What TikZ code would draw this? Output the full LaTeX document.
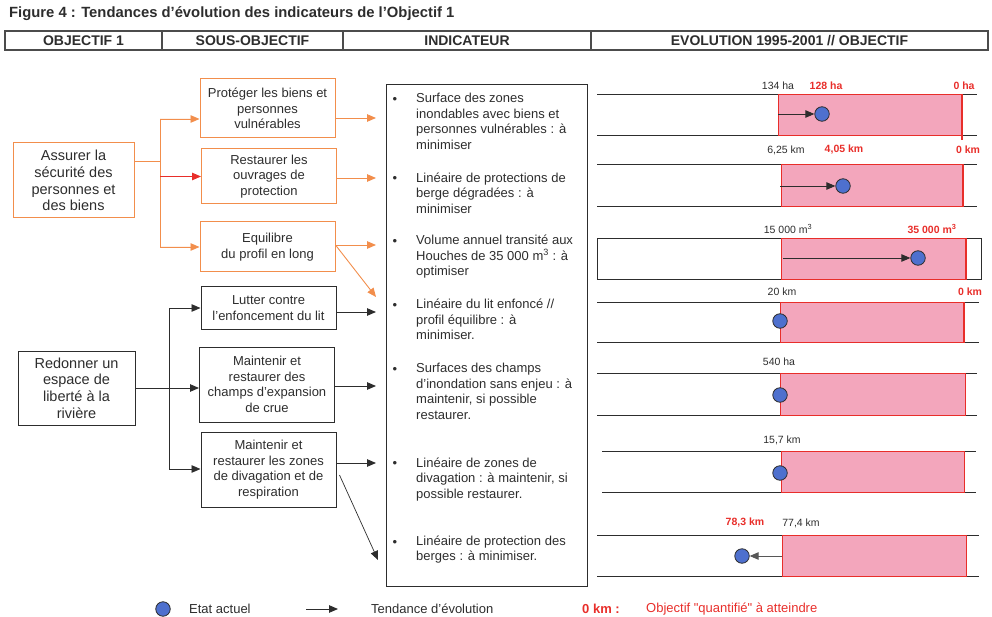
\documentclass[tikz,border=0pt]{standalone}
\usepackage{fontspec}
\setmainfont{Liberation Sans}
\usetikzlibrary{arrows.meta}

\definecolor{orangebox}{RGB}{242,142,76}
\definecolor{redgoal}{RGB}{232,46,42}
\definecolor{pinkbar}{RGB}{243,166,188}
\definecolor{blueetat}{RGB}{78,112,206}
\definecolor{inkgray}{RGB}{45,45,45}

\begin{document}
\begin{tikzpicture}[
            x=1pt, y=-1pt,
            font=\fontsize{13}{15.5}\selectfont, text=inkgray,
            head/.style={rectangle, draw=inkgray!85, line width=1.3pt, minimum height=19pt,
                                        inner sep=0pt, font=\fontsize{14}{16}\selectfont\bfseries},
            obj/.style={rectangle, draw, line width=1pt, align=center, inner sep=0pt,
                                        font=\fontsize{14.5}{16.7}\selectfont},
            sous/.style={rectangle, draw, line width=1pt, align=center, inner sep=0pt,
                                        minimum width=135pt},
            item/.style={anchor=north west, align=left, inner sep=0pt},
            puce/.style={anchor=base, inner sep=0pt},
            flow/.style={-{Triangle[length=9pt,width=7.5pt]}, line width=0.9pt},
            rail/.style={draw=inkgray, line width=0.9pt},
            bar/.style={fill=pinkbar, draw=redgoal, line width=0.8pt},
            goal/.style={draw=redgoal, line width=2.4pt},
            etat/.style={circle, draw=inkgray, fill=blueetat, line width=0.8pt,
                                        minimum size=14.5pt, inner sep=0pt},
            val/.style={inner sep=0pt, font=\fontsize{10.5}{12}\selectfont},
            valr/.style={val, text=redgoal, font=\fontsize{10.5}{12}\selectfont\bfseries}
        ]
        \useasboundingbox (0,0) rectangle (992,617);

        % Title and header row
        \node[anchor=west, inner sep=0pt, font=\fontsize{14.8}{17}\selectfont\bfseries] (title)
            at (9,14) {Figure 4 : Tendances d'évolution des indicateurs de l'Objectif 1};
        \node[head, minimum width=157pt] (h1) at (83.5,40.5) {OBJECTIF 1};
        \node[head, minimum width=181pt] (h2) at (252.5,40.5) {SOUS-OBJECTIF};
        \node[head, minimum width=248pt] (h3) at (467,40.5) {INDICATEUR};
        \node[head, minimum width=397pt] (h4) at (789.5,40.5) {EVOLUTION 1995-2001 // OBJECTIF};

        % Objectives
        \node[obj, draw=orangebox, minimum width=121pt, minimum height=75pt] (obj1)
            at (73.5,180.5) {Assurer la\\sécurité des\\personnes et\\des biens};
        \node[obj, draw=inkgray, minimum width=117pt, minimum height=74pt] (obj2)
            at (76.5,388) {Redonner un\\espace de\\liberté à la\\rivière};

        % Sub-objectives
        \node[sous, draw=orangebox, minimum height=59pt] (s1) at (267.5,108.5)
            {Protéger les biens et\\personnes\\vulnérables};
        \node[sous, draw=orangebox, minimum height=55pt] (s2) at (269,176.5)
            {Restaurer les\\ouvrages de\\protection};
        \node[sous, draw=orangebox, minimum height=50pt] (s3) at (267.5,247)
            {Equilibre\\du profil en long};
        \node[sous, draw=inkgray, minimum height=42pt] (s4) at (268.5,308)
            {Lutter contre\\l'enfoncement du lit};
        \node[sous, draw=inkgray, minimum height=75pt] (s5) at (267,384.5)
            {Maintenir et\\restaurer des\\champs d'expansion\\de crue};
        \node[sous, draw=inkgray, minimum height=75pt] (s6) at (268.5,469.5)
            {Maintenir et\\restaurer les zones\\de divagation et de\\respiration};

        % Indicators
        \node[draw=inkgray, line width=1pt, minimum width=201pt, minimum height=502pt,
                    anchor=north west, inner sep=0pt] (ind) at (386,84) {};
        \node[puce] (b1) at (395,103.5) {\textbullet};
        \node[item] (i1) at (416,93.3)
            {Surface des zones\\inondables avec biens et\\personnes vulnérables : à\\minimiser};
        \node[puce] (b2) at (395,182.5) {\textbullet};
        \node[item] (i2) at (416,172.3)
            {Linéaire de protections de\\berge dégradées : à\\minimiser};
        \node[puce] (b3) at (395,245.5) {\textbullet};
        \node[item] (i3) at (416,235)
            {Volume annuel transité aux\\Houches de 35 000 m\textsuperscript{3} : à\\optimiser};
        \node[puce] (b4) at (395,309.5) {\textbullet};
        \node[item] (i4) at (416,299)
            {Linéaire du lit enfoncé //\\profil équilibre : à\\minimiser.};
        \node[puce] (b5) at (395,373.5) {\textbullet};
        \node[item] (i5) at (416,363.3)
            {Surfaces des champs\\d'inondation sans enjeu : à\\maintenir, si possible\\restaurer.};
        \node[puce] (b6) at (395,467.5) {\textbullet};
        \node[item] (i6) at (416,457.3)
            {Linéaire de zones de\\divagation : à maintenir, si\\possible restaurer.};
        \node[puce] (b7) at (395,546) {\textbullet};
        \node[item] (i7) at (416,535.7)
            {Linéaire de protection des\\berges : à minimiser.};

        % Connections, objective 1
        \coordinate (ojoin) at (160,161);
        \coordinate (otop) at (160,119);
        \coordinate (obot) at (160,247);
        \draw[draw=orangebox, line width=0.9pt] ([yshift=19.5pt]obj1.east) -- (ojoin);
        \draw[draw=orangebox, line width=0.9pt] (otop) -- (obot);
        \draw[flow, draw=orangebox, fill=orangebox] (otop) -- (otop -| s1.west);
        \draw[flow, draw=redgoal, fill=redgoal] (s2.west -| ojoin) -- (s2.west);
        \draw[flow, draw=orangebox, fill=orangebox] (obot) -- (obot -| s3.west);

        % Connections, objective 2
        \coordinate (ktop) at (169,308);
        \coordinate (kbot) at (169,469);
        \draw[flow, draw=inkgray] (obj2.east) -- (obj2.east -| s5.west);
        \draw[draw=inkgray, line width=0.9pt] (ktop) -- (kbot);
        \draw[flow, draw=inkgray] (ktop) -- (ktop -| s4.west);
        \draw[flow, draw=inkgray] (kbot) -- (kbot -| s6.west);

        % Sub-objectives to indicators
        \coordinate (a1) at ([yshift=-9.5pt]s1.east);
        \coordinate (a2) at ([yshift=-1.5pt]s2.east);
        \coordinate (a3) at ([yshift=2pt]s3.east);
        \coordinate (a4) at ([yshift=-4pt]s4.east);
        \coordinate (a5) at ([yshift=-1.5pt]s5.east);
        \coordinate (a6) at ([yshift=6.5pt]s6.east);
        \coordinate (a7) at ([xshift=3pt,yshift=-5.5pt]s6.east);
        \coordinate (d4) at (376,297);
        \coordinate (d7) at (378,560);
        \draw[flow, draw=orangebox, shorten >=10pt] (a1) -- (a1 -| ind.west);
        \draw[flow, draw=orangebox, shorten >=10pt] (a2) -- (a2 -| ind.west);
        \draw[flow, draw=orangebox, shorten >=10pt] (a3) -- (a3 -| ind.west);
        \draw[flow, draw=orangebox] (a3) -- (d4);
        \draw[flow, draw=inkgray, shorten >=10pt] (a4) -- (a4 -| ind.west);
        \draw[flow, draw=inkgray, shorten >=10pt] (a5) -- (a5 -| ind.west);
        \draw[flow, draw=inkgray, shorten >=10pt] (a6) -- (a6 -| ind.west);
        \draw[flow, draw=inkgray, line width=0.7pt] (a7) -- (d7);

        % Evolution, row 1
        \draw[rail] (597,94) -- (977,94) (597,135) -- (977,135);
        \draw[bar] (778,94) rectangle (962,135);
        \draw[goal] (962,94) -- (962,140);
        \node[val] (v1) at (778,86) {134 ha};
        \node[valr] (q1) at (826,86) {128 ha};
        \node[valr] (o1) at (964,86) {0 ha};
        \coordinate (t1) at (778,114);
        \node[etat] (e1) at (822,114) {};
        \draw[flow, draw=inkgray] (t1) -- (e1);

        % Evolution, row 2
        \draw[rail] (597,164) -- (977,164) (597,206) -- (977,206);
        \draw[bar] (781,164) rectangle (963,206);
        \draw[goal] (963,164) -- (963,206);
        \node[val] (v2) at (786,150) {6,25 km};
        \node[valr] (q2) at (844,150) {4,05 km};
        \node[valr] (o2) at (968,150) {0 km};
        \coordinate (t2) at (780,186);
        \node[etat] (e2) at (843,186) {};
        \draw[flow, draw=inkgray] (t2) -- (e2);

        % Evolution, row 3
        \draw[rail] (597,238) rectangle (981,279);
        \draw[bar] (781,238) rectangle (966,279);
        \draw[goal] (966,238) -- (966,279);
        \node[val] (v3) at (788,229) {15 000 m\textsuperscript{3}};
        \node[valr] (q3) at (932,229) {35 000 m\textsuperscript{3}};
        \coordinate (t3) at (783,258);
        \node[etat] (e3) at (918,258) {};
        \draw[flow, draw=inkgray] (t3) -- (e3);

        % Evolution, row 4
        \draw[rail] (597,302) -- (979,302) (597,342) -- (979,342);
        \draw[bar] (780,302) rectangle (964,342);
        \draw[goal] (964,302) -- (964,342);
        \node[val] (v4) at (782,292) {20 km};
        \node[valr] (o4) at (970,292) {0 km};
        \node[etat] (e4) at (780,321) {};

        % Evolution, row 5
        \draw[rail] (597,373) -- (977,373) (597,415) -- (977,415);
        \draw[bar] (780,373) rectangle (965,415);
        \node[val] (v5) at (779,362) {540 ha};
        \node[etat] (e5) at (780,395) {};

        % Evolution, row 6
        \draw[rail] (602,451) -- (976,451) (602,492) -- (976,492);
        \draw[bar] (781,451) rectangle (964,492);
        \node[val] (v6) at (782,440) {15,7 km};
        \node[etat] (e6) at (780,473) {};

        % Evolution, row 7
        \draw[rail] (597,535) -- (979,535) (597,576) -- (979,576);
        \draw[bar] (782,535) rectangle (966,576);
        \node[valr] (q7) at (745,523) {78,3 km};
        \node[val] (v7) at (801,523) {77,4 km};
        \coordinate (t7) at (782,556);
        \node[etat] (e7) at (742,556) {};
        \draw[flow, draw=inkgray!80] (t7) -- (e7);

        % Legend
        \node[etat] (lgetat) at (163,609) {};
        \node[anchor=west, inner sep=0pt] (lgetattxt) at (189,609) {Etat actuel};
        \coordinate (lga) at (306,609);
        \coordinate (lgb) at (338,609);
        \draw[flow, draw=inkgray] (lga) -- (lgb);
        \node[anchor=west, inner sep=0pt] (lgtrend) at (371,609) {Tendance d'évolution};
        \node[anchor=west, inner sep=0pt, text=redgoal, font=\fontsize{13}{15.5}\selectfont\bfseries]
            (lgkm) at (582,609) {0 km :};
        \node[anchor=west, inner sep=0pt, text=redgoal] (lgobj) at (646,609)
            {Objectif \textquotedbl quantifié\textquotedbl{} à atteindre};

        \end{tikzpicture}
\end{document}
